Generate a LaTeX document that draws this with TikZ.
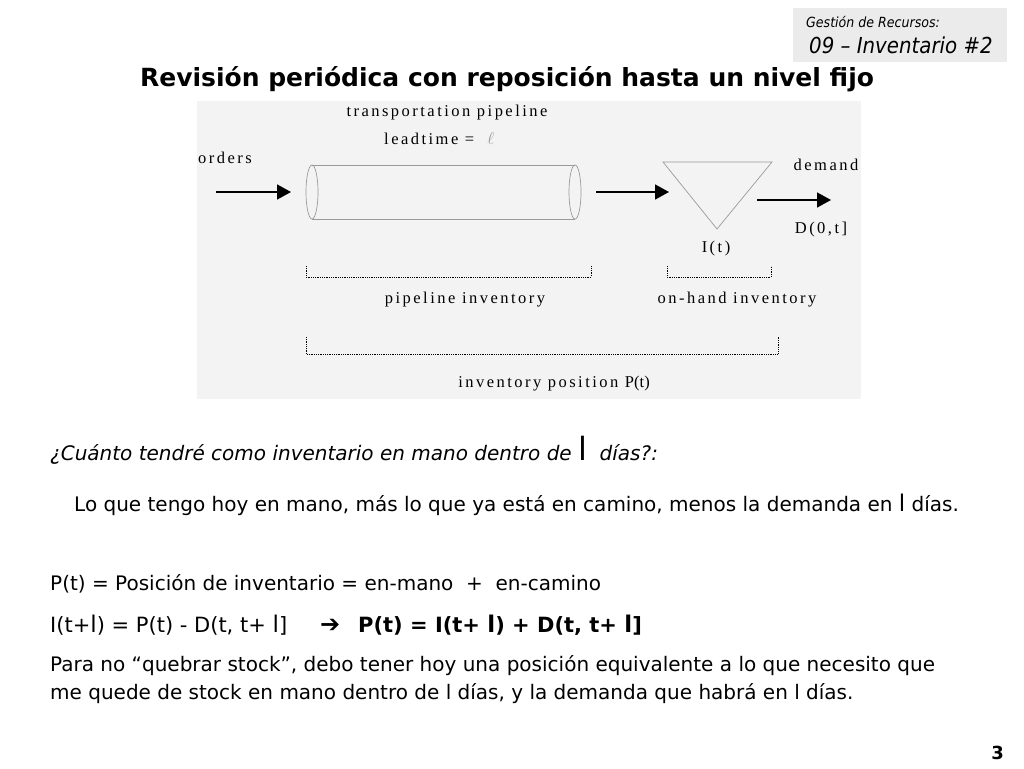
\documentclass[tikz,border=0pt]{standalone}
\usepackage{fontspec}
\setmainfont{DejaVu Sans}
\newfontfamily\tagfont{DejaVu Sans Condensed}
\newfontfamily\diagfont[LetterSpace=15]{Liberation Serif}
\usetikzlibrary{arrows.meta, positioning, calc}
\definecolor{cpanel}{HTML}{F3F3F3}
\definecolor{ctag}{HTML}{EBEBEB}
\definecolor{cline}{HTML}{9A9A9A}
\tikzset{
  every picture/.style={x=1pt, y=-1pt},
  lbl/.style={font=\diagfont\fontsize{16.5}{19}\selectfont, inner sep=0pt},
  flow/.style={-{Triangle[length=14pt, width=15pt]}, line width=1.6pt},
  pipe/.style={draw=cline, line width=0.7pt},
  brace/.style={densely dotted, line width=0.8pt},
  body/.style={font=\fontsize{20}{24}\selectfont, anchor=base west, inner sep=0pt},
}
\newcommand{\ltr}[1][23]{{\fontsize{#1}{24}\selectfont l}}
\begin{document}
\begin{tikzpicture}
  \useasboundingbox[fill=white] (0,0) rectangle (1024,768);
  % header tag and title
  \fill[ctag] (793,8) rectangle (1007,62);
  \node[anchor=base west, inner sep=0pt, font=\tagfont\itshape\fontsize{14}{16}\selectfont] (tag1) at (806,28) {Gestión de Recursos:};
  \node[anchor=base west, inner sep=0pt, font=\tagfont\itshape\fontsize{22}{26}\selectfont] (tag2) at (809,54) {09 – Inventario \#2};
  \node[anchor=base, inner sep=0pt, font=\bfseries\fontsize{25}{30}\selectfont] (title) at (507,86) {Revisión periódica con reposición hasta un nivel fijo};
  % diagram panel
  \fill[cpanel] (197,101) rectangle (861,399);
  \node[lbl] (tpl) at (447,113) {transportation pipeline};
  \node[lbl, anchor=west] (lead) at (384,139) {leadtime = \ \textcolor{cline}{$\ell$}};
  \node[lbl] (orders) at (225,158) {orders};
  \node[lbl] (demand) at (826,165) {demand};
  % pipe
  \coordinate (pipeL) at (312,192);
  \coordinate (pipeR) at (575,192);
  \draw[pipe] (pipeL) ellipse [x radius=6, y radius=27];
  \draw[pipe] (pipeR) ellipse [x radius=6, y radius=27];
  \draw[pipe] ($(pipeL)+(0,-27)$) -- ($(pipeR)+(0,-27)$);
  \draw[pipe] ($(pipeL)+(0,27)$) -- ($(pipeR)+(0,27)$);
  % stock triangle
  \coordinate (triA) at (663,162);
  \coordinate (triB) at (772,162);
  \coordinate (triC) at (717,229);
  \draw[pipe] (triA) -- (triB) -- (triC) -- cycle;
  \node[lbl] (inv) at (716,249) {I(t)};
  \node[lbl] (dem) at (821,230) {D(0,t]};
  % flows
  \coordinate (in1) at (216,192);  \coordinate (in2) at (291,192);
  \coordinate (mid1) at (596,192); \coordinate (mid2) at (669,192);
  \coordinate (out1) at (757,200); \coordinate (out2) at (831,200);
  \draw[flow] (in1) -- (in2);
  \draw[flow] (mid1) -- (mid2);
  \draw[flow] (out1) -- (out2);
  % dotted brackets
  \coordinate (b1l) at (306,266); \coordinate (b1r) at (591,266);
  \coordinate (b2l) at (667,266); \coordinate (b2r) at (771,266);
  \coordinate (b3l) at (306,337); \coordinate (b3r) at (778,337);
  \draw[brace] (b1l) |- ($(b1r)+(0,11)$) -- (b1r);
  \draw[brace] (b2l) |- ($(b2r)+(0,11)$) -- (b2r);
  \draw[brace] (b3l) |- ($(b3r)+(0,17)$) -- (b3r);
  \node[lbl] (pinv) at (465,300) {pipeline inventory};
  \node[lbl] (hinv) at (737,300) {on-hand inventory};
  \node[lbl] (ipos) at (554,384) {inventory position {\addfontfeature{LetterSpace=0}P(t)}};
  % text below
  \node[body] (q) at (50,460) {\textit{¿Cuánto tendré como inventario en mano dentro de} \ltr[32]\ \ \textit{días?:}};
  \node[body] (a) at (74,511) {Lo que tengo hoy en mano, más lo que ya está en camino, menos la demanda en \ltr{} días.};
  \node[body] (eq1) at (50,590) {P(t) = Posición de inventario = en-mano \ + \ en-camino};
  \node[body, font=\fontsize{21}{24}\selectfont] (eq2) at (50,632) {I(t+\ltr) = P(t) - D(t, t+ \ltr]};
  \node[body, font=\bfseries\fontsize{24}{24}\selectfont] (impl) at (320,632) {➔};
  \node[body, font=\bfseries\fontsize{21}{24}\selectfont] (eq3) at (358,632) {P(t) = I(t+ \ltr) + D(t, t+ \ltr]};
  \node[body] (p1) at (50,671) {Para no “quebrar stock”, debo tener hoy una posición equivalente a lo que necesito que};
  \node[body] (p2) at (50,699) {me quede de stock en mano dentro de l días, y la demanda que habrá en l días.};
  \node[body, anchor=base east, font=\bfseries\fontsize{18}{20}\selectfont] (pg) at (1004,759) {3};
\end{tikzpicture}
\end{document}
